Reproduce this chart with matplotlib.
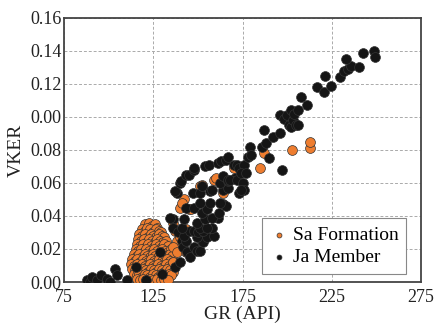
import matplotlib
matplotlib.use("Agg")
import matplotlib.pyplot as plt
from matplotlib.ticker import FixedLocator, FixedFormatter

# ---------------- data ----------------
sa_gr = [120.5, 122.3, 124.1, 125.8, 127.2,
         118.6, 120.2, 121.7, 123.2, 124.8, 126.3, 127.9, 129.3,
         117.2, 118.8, 120.3, 121.9, 123.4, 124.9, 126.5, 128.1, 129.6, 131.0,
         116.6, 118.1, 119.6, 121.2, 122.7, 124.2, 125.7, 127.2, 128.7, 130.2, 132.0,
         116.0, 117.6, 119.1, 120.6, 122.1, 123.7, 125.2, 126.7, 128.2, 129.7, 131.2, 133.0,
         115.1, 116.6, 118.1, 119.6, 121.1, 122.6, 124.1, 125.6, 127.1, 128.6, 130.1, 131.6, 133.1, 134.6,
         114.1, 115.6, 117.1, 118.6, 120.1, 121.6, 123.1, 124.6, 126.1, 127.6, 129.1, 131.0, 132.6, 134.1, 135.6,
         113.1, 114.6, 116.1, 117.6, 119.1, 120.6, 122.1, 123.6, 125.1, 126.6, 128.1, 129.6, 131.1, 132.6, 134.1, 136.0,
         112.6, 114.1, 115.6, 117.1, 118.6, 120.1, 121.6, 123.1, 124.6, 126.1, 127.6, 129.1, 130.6, 132.1, 133.6, 135.1, 136.8,
         113.2, 114.7, 116.2, 117.7, 119.2, 120.7, 122.2, 123.7, 125.2, 126.7, 128.2, 129.7, 131.2, 132.7, 134.2, 136.0,
         114.2, 115.7, 117.2, 118.7, 120.2, 121.7, 123.2, 124.7, 126.2, 127.7, 129.2, 130.7, 132.2, 133.7, 135.0,
         116.1, 117.7, 119.2, 121.1, 123.1, 125.0, 127.0, 129.0, 131.0, 133.0,
         136.0, 137.0, 138.0, 136.0, 138.5, 143.0, 140.0, 143.0, 136.0,
         140.0, 142.0, 144.7, 146.0, 141.0,
         151.0, 152.0, 159.0, 160.0, 163.8, 170.0,
         184.6, 186.8, 202.5, 212.6, 212.7]
sa_vker = [0.035, 0.036, 0.034, 0.035, 0.033,
           0.032, 0.031, 0.033, 0.032, 0.030, 0.032, 0.031, 0.030,
           0.029, 0.028, 0.029, 0.027, 0.029, 0.028, 0.027, 0.029, 0.028, 0.027,
           0.026, 0.025, 0.026, 0.024, 0.026, 0.025, 0.024, 0.026, 0.025, 0.024, 0.025,
           0.023, 0.022, 0.023, 0.021, 0.023, 0.022, 0.021, 0.023, 0.022, 0.021, 0.023, 0.022,
           0.020, 0.019, 0.020, 0.018, 0.020, 0.019, 0.018, 0.020, 0.019, 0.018, 0.020, 0.019, 0.018, 0.020,
           0.017, 0.016, 0.017, 0.015, 0.017, 0.016, 0.015, 0.017, 0.016, 0.015, 0.017, 0.016, 0.015, 0.017, 0.016,
           0.014, 0.013, 0.014, 0.012, 0.014, 0.013, 0.012, 0.014, 0.013, 0.012, 0.014, 0.013, 0.012, 0.014, 0.013, 0.012,
           0.011, 0.010, 0.011, 0.009, 0.011, 0.010, 0.009, 0.011, 0.010, 0.009, 0.011, 0.010, 0.009, 0.011, 0.010, 0.009, 0.011,
           0.008, 0.007, 0.008, 0.006, 0.008, 0.007, 0.006, 0.008, 0.007, 0.006, 0.008, 0.007, 0.006, 0.008, 0.007, 0.006,
           0.005, 0.004, 0.005, 0.003, 0.005, 0.004, 0.003, 0.005, 0.004, 0.003, 0.005, 0.004, 0.003, 0.005, 0.004,
           0.002, 0.001, 0.002, 0.001, 0.002, 0.001, 0.002, 0.001, 0.002, 0.001,
           0.036, 0.031, 0.025, 0.021, 0.018, 0.018, 0.027, 0.032, 0.012,
           0.045, 0.050, 0.044, 0.044, 0.048,
           0.058, 0.059, 0.062, 0.063, 0.054, 0.069,
           0.069, 0.078, 0.080, 0.081, 0.085]

ja_gr = [88.0, 89.5, 90.7, 93.5, 95.5, 99.0, 100.5, 103.5, 104.5, 110.0, 115.5, 121.0,
         128.5, 130.0, 137.0, 136.0,
         134.5, 136.0, 139.0, 141.0, 141.8, 140.0, 144.0, 145.8, 147.5, 149.7,
         151.0, 152.5, 153.0, 149.7, 155.0, 158.7, 143.0, 142.0, 145.8, 147.5,
         150.0, 153.0, 158.0, 151.0, 141.0, 155.0, 149.7, 154.0, 142.0, 161.0,
         158.0, 143.0, 147.5, 152.5, 161.5, 155.0, 157.0, 151.0, 164.0, 165.5,
         162.6, 138.5, 147.0, 151.0, 157.0, 158.0, 164.0, 167.0, 152.5, 162.6,
         166.6, 164.0, 167.0, 171.0, 168.0, 172.0, 175.0, 175.6, 172.8, 174.0,
         137.0, 140.0, 140.7, 143.0, 144.7, 147.5, 148.0, 154.0, 156.0, 161.0,
         163.0, 165.5, 166.6, 170.0, 172.0, 172.7, 175.6, 174.0, 177.0, 178.0,
         179.0, 179.5,
         186.0, 188.0, 187.0, 190.0, 192.0, 196.0, 197.0, 196.0, 198.0, 200.0,
         200.8, 202.0, 202.0, 203.0, 203.7, 204.8, 206.0, 206.0, 207.6, 211.0,
         216.6, 220.5, 221.0, 224.4, 229.5, 231.7, 234.0, 235.7, 232.9, 240.0,
         242.4, 248.6, 249.0]
ja_vker = [0.001, 0.000, 0.003, 0.001, 0.004, 0.002, 0.000, 0.008, 0.004, 0.001, 0.009, 0.001,
           0.018, 0.005, 0.009, 0.038,
           0.039, 0.033, 0.030, 0.025, 0.021, 0.012, 0.018, 0.015, 0.021, 0.019,
           0.019, 0.025, 0.024, 0.027, 0.027, 0.028, 0.025, 0.028, 0.031, 0.031,
           0.030, 0.031, 0.033, 0.033, 0.033, 0.033, 0.036, 0.038, 0.038, 0.039,
           0.039, 0.045, 0.045, 0.042, 0.042, 0.044, 0.048, 0.048, 0.047, 0.046,
           0.048, 0.054, 0.054, 0.054, 0.055, 0.056, 0.056, 0.057, 0.058, 0.060,
           0.061, 0.064, 0.062, 0.063, 0.062, 0.062, 0.060, 0.056, 0.054, 0.056,
           0.055, 0.060, 0.061, 0.065, 0.065, 0.068, 0.069, 0.070, 0.071, 0.072,
           0.073, 0.074, 0.076, 0.071, 0.071, 0.069, 0.071, 0.066, 0.066, 0.076,
           0.082, 0.077,
           0.082, 0.084, 0.092, 0.075, 0.088, 0.090, 0.068, 0.101, 0.099, 0.101,
           0.095, 0.104, 0.094, 0.098, 0.102, 0.095, 0.104, 0.095, 0.112, 0.107,
           0.118, 0.115, 0.125, 0.119, 0.124, 0.128, 0.129, 0.131, 0.135, 0.130,
           0.139, 0.140, 0.136]

x_ticks = [75, 125, 175, 225, 275]
x_tick_labels = ["75", "125", "175", "225", "275"]
y_ticks = [0.00, 0.02, 0.04, 0.06, 0.08, 0.10, 0.12, 0.14, 0.16]
y_tick_labels = ["0.00", "0.02", "0.04", "0.06", "0.08", "0.00", "0.12", "0.14", "0.16"]

# ---------------- plot ----------------
plt.rcParams['font.family'] = ['Liberation Serif', 'DejaVu Serif']

fig = plt.figure(figsize=(4.36, 3.31), dpi=100)
fig.patch.set_facecolor("white")
ax = fig.add_axes([0.147, 0.148, 0.819, 0.798])

orange = "#EE7D2F"
ax.scatter(sa_gr, sa_vker, s=50, c=orange, edgecolors="#333333", linewidths=0.5,
           label="Sa Formation", zorder=3)
ax.scatter(ja_gr, ja_vker, s=50, c="#151515", edgecolors="#333333", linewidths=0.5,
           label="Ja Member", zorder=4)

ax.set_xlim(75, 275)
ax.set_ylim(0, 0.16)
ax.xaxis.set_major_locator(FixedLocator(x_ticks))
ax.xaxis.set_major_formatter(FixedFormatter(x_tick_labels))
ax.yaxis.set_major_locator(FixedLocator(y_ticks))
ax.yaxis.set_major_formatter(FixedFormatter(y_tick_labels))
ax.tick_params(axis="both", length=0, labelsize=13, colors="#222222")
ax.tick_params(axis="x", pad=5)
ax.tick_params(axis="y", pad=2)

ax.grid(True, linestyle=(0, (3, 2)), color="#aaaaaa", linewidth=0.7, zorder=0)
ax.set_axisbelow(True)
for sp in ax.spines.values():
    sp.set_color("#444444")
    sp.set_linewidth(1.3)

ax.set_xlabel("GR (API)", fontsize=14, labelpad=0, color="#222222")
ax.set_ylabel("VKER", fontsize=14, labelpad=4, color="#222222")

leg = ax.legend(loc="lower right", bbox_to_anchor=(0.958, 0.03), fontsize=14,
                markerscale=0.5, handletextpad=0.2, borderpad=0.4,
                labelspacing=0.25, fancybox=False, framealpha=1,
                edgecolor="#888888", handlelength=1.0, borderaxespad=0)
leg.get_frame().set_linewidth(0.8)

fig.savefig("out.png", dpi=100)
